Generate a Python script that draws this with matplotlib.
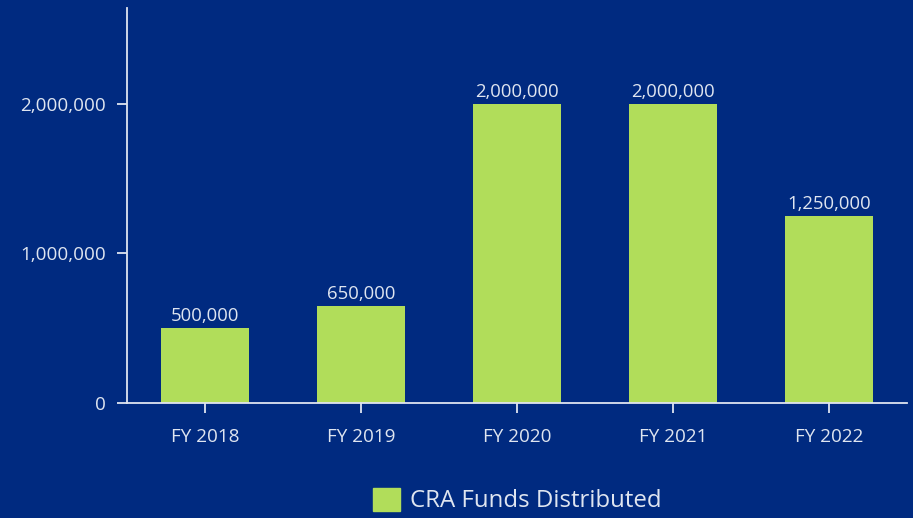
import matplotlib.pyplot as plt
from matplotlib.ticker import FuncFormatter
from matplotlib.patches import Patch

years = ['FY 2018', 'FY 2019', 'FY 2020', 'FY 2021', 'FY 2022']
funds = [500000, 650000, 2000000, 2000000, 1250000]
series_name = 'CRA Funds Distributed'

bg = '#002a80'
bar_color = '#b1dd5a'
txt = '#dfe5f0'

plt.rcParams['font.family'] = ['Open Sans', 'DejaVu Sans']

fig = plt.figure(figsize=(9.13, 5.18), dpi=100, facecolor=bg)
ax = fig.add_axes([127 / 913, 115 / 518, 780 / 913, 395 / 518], facecolor=bg)

x = range(len(years))
bars = ax.bar(x, funds, width=0.565, color=bar_color, label=series_name, zorder=2)
for b, v in zip(bars, funds):
    ax.text(b.get_x() + b.get_width() / 2, v + 20000, f'{v:,}', ha='center', va='bottom',
            color=txt, fontsize=13.3)

ax.set_xlim(-0.5, 4.5)
ax.set_ylim(0, 2640000)
ax.set_xticks(list(x))
ax.set_xticklabels(years)
ax.set_yticks([0, 1000000, 2000000])
ax.yaxis.set_major_formatter(FuncFormatter(lambda v, p: f'{int(v):,}'))

for s in ['top', 'right']:
    ax.spines[s].set_visible(False)
for s in ['left', 'bottom']:
    ax.spines[s].set_color(txt)
    ax.spines[s].set_linewidth(1.3)
ax.tick_params(colors=txt, labelsize=13.6, length=7, width=1.3)
ax.tick_params(axis='x', pad=11)
ax.tick_params(axis='y', pad=8)

handle = Patch(facecolor=bar_color, edgecolor=bar_color, label=series_name)
fig.legend(handles=[handle], loc='center', bbox_to_anchor=(0.567, 0.034), frameon=False,
           fontsize=17.3, labelcolor=txt, handlelength=1.1, handleheight=1.1, handletextpad=0.45)

fig.savefig('out.png', dpi=100, facecolor=bg)
